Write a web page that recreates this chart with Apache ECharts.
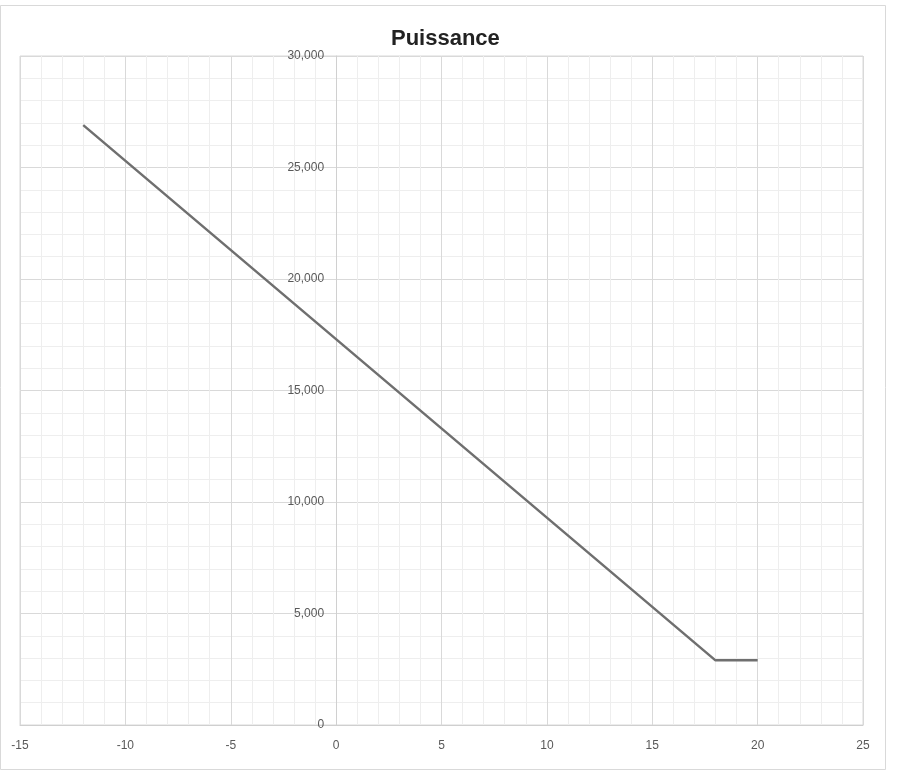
<!DOCTYPE html>
<html>
<head>
<meta charset="utf-8">
<script src="https://cdn.jsdelivr.net/npm/echarts@6/dist/echarts.min.js"></script>
<style>
html,body{margin:0;padding:0;background:#fff;}
#main{width:897px;height:773px;}
</style>
</head>
<body>
<div id="main"></div>
<script>
// Data
var temperatures = [-12, 18, 20];
var puissance = [26900, 2900, 2900];
var xTicks = [-15, -10, -5, 0, 5, 10, 15, 20, 25];
var yTicks = [0, 5000, 10000, 15000, 20000, 25000, 30000];

var seriesData = temperatures.map(function (t, i) { return [t, puissance[i]]; });
var GRID_LEFT = 20;

var chart = echarts.init(document.getElementById('main'), null, {renderer: 'canvas'});
chart.setOption({
  backgroundColor: '#ffffff',
  animation: false,
  title: {
    text: 'Puissance',
    left: 386,
    top: 23,
    textStyle: {fontFamily: 'Liberation Sans', fontWeight: 'bold', fontSize: 22, color: '#222222'}
  },
  graphic: [{
    type: 'rect',
    shape: {x: 0.5, y: 5.5, width: 885, height: 764},
    style: {fill: 'none', stroke: '#d9d9d9', lineWidth: 1},
    silent: true
  }],
  grid: {
    left: GRID_LEFT, right: 34, top: 56, bottom: 48,
    containLabel: false,
    outerBoundsMode: 'none',
    show: true, borderColor: '#d9d9d9', borderWidth: 1
  },
  xAxis: {
    type: 'value',
    min: xTicks[0],
    max: xTicks[xTicks.length - 1],
    interval: 5,
    axisLine: {show: true, onZero: false, lineStyle: {color: '#cfcfcf', width: 1}},
    axisTick: {show: false},
    minorTick: {show: false, splitNumber: 5},
    axisLabel: {color: '#595959', fontSize: 12, fontFamily: 'Liberation Sans', margin: 15},
    splitLine: {show: true, lineStyle: {color: '#d9d9d9', width: 1}},
    minorSplitLine: {show: true, lineStyle: {color: '#eeeeee', width: 1}}
  },
  yAxis: {
    type: 'value',
    min: yTicks[0],
    max: yTicks[yTicks.length - 1],
    interval: 5000,
    axisLine: {show: true, onZero: false, lineStyle: {color: '#d0d0d0', width: 1}},
    axisTick: {show: false},
    minorTick: {show: false, splitNumber: 5},
    axisLabel: {
      color: '#595959', fontSize: 12, fontFamily: 'Liberation Sans', margin: 12,
      formatter: function (v) { return v.toLocaleString('en-US'); }
    },
    splitLine: {show: true, lineStyle: {color: '#d9d9d9', width: 1}},
    minorSplitLine: {show: true, lineStyle: {color: '#eeeeee', width: 1}}
  },
  series: [{
    type: 'line',
    data: seriesData,
    showSymbol: false,
    symbol: 'none',
    lineStyle: {color: '#6f6f6f', width: 2.5},
    silent: true
  }]
});

// Place the value axis where x = 0, as in the reference (axis crossing at zero)
var zeroPx = chart.convertToPixel({xAxisIndex: 0}, 0);
chart.setOption({yAxis: {offset: -(zeroPx - GRID_LEFT)}});
</script>
</body>
</html>
